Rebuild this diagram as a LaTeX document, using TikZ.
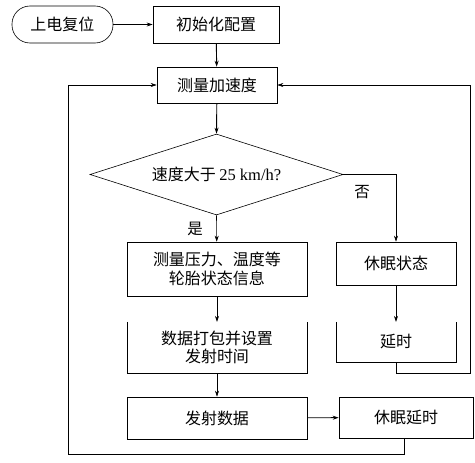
\documentclass[tikz,border=0pt]{standalone}
\usepackage{fontspec}
\setmainfont{Liberation Serif}
\newfontfamily\cjk{Noto Sans CJK SC}
\usetikzlibrary{shapes.geometric,arrows.meta}
\begin{document}
\begin{tikzpicture}[x=1pt,y=-1pt,
  every node/.style={font=\cjk\fontsize{16}{18.5}\selectfont, inner sep=0pt, align=center},
  box/.style={draw, line width=0.6pt, rectangle},
  openbox/.style={rectangle},
  line/.style={line width=0.6pt},
  arr/.style={line width=0.6pt, -{Stealth[length=6pt,width=4pt]}},
  lab/.style={font=\cjk\fontsize{15.5}{18}\selectfont}]
\useasboundingbox (0,0) rectangle (475,463);
% nodes
\node[draw, line width=0.6pt, rounded corners=18pt, minimum width=101pt, minimum height=37pt] (start) at (62.5,24.5) {上电复位};
\node[box, minimum width=126pt, minimum height=37pt] (init) at (216,24.5) {初始化配置};
\node[box, minimum width=120pt, minimum height=36pt] (meas) at (217,85) {测量加速度};
\node[draw, line width=0.6pt, diamond, aspect=3.12, minimum width=253pt, minimum height=81pt] (dec) at (216.5,174.5) {速度大于 {\fontspec{Liberation Serif}\fontsize{16.5}{18}\selectfont 25 km/h?}};
\node[box, minimum width=180pt, minimum height=54pt] (mp) at (217,269) {测量压力、温度等\\轮胎状态信息};
\node[box, minimum width=120pt, minimum height=43pt] (sleep) at (396,263.5) {休眠状态};
\node[openbox, minimum width=180pt, minimum height=51pt] (pack) at (217,347.5) {数据打包并设置\\发射时间};
\node[openbox, minimum width=120pt, minimum height=40pt] (delay) at (396,342) {延时};
\node[box, minimum width=180pt, minimum height=42pt] (send) at (217,418) {发射数据};
\node[box, minimum width=134pt, minimum height=41pt] (sd) at (406,417.5) {休眠延时};
% open-top boxes
\draw[line] (pack.north west) -- (pack.south west) -- (pack.south east) -- (pack.north east);
\draw[line] (delay.north west) -- (delay.south west) -- (delay.south east) -- (delay.north east);
% labels
\node[lab] (no) at (362,192) {否};
\node[lab] (yes) at (195,229) {是};
% coordinates
\coordinate (c1) at (396,174.5);
\coordinate (c2) at (396,373);
\coordinate (c3) at (470,373);
\coordinate (c4) at (470,85);
\coordinate (c5) at (404,454);
\coordinate (c6) at (68,454);
\coordinate (c7) at (68,85);
% connectors
\draw[arr] (start) -- (init);
\draw[arr, line width=0.9pt] (init) -- (meas);
\draw[arr, line width=0.9pt] (meas) -- (dec.north);
\draw[arr] (dec.south) -- (mp);
\draw[arr] (dec.east) -- (c1) -- (sleep.north);
\draw[arr] (mp) -- (pack.north);
\draw[arr] (sleep) -- (delay.north);
\draw[arr] (pack) -- (send);
\draw[arr, line width=0.9pt] (send) -- (sd);
\draw[arr] (delay.south) -- (c2) -- (c3) -- (c4) -- (meas.east);
\draw[arr] (sd.south -| c5) -- (c5) -- (c6) -- (c7) -- (meas.west);
\end{tikzpicture}
\end{document}
